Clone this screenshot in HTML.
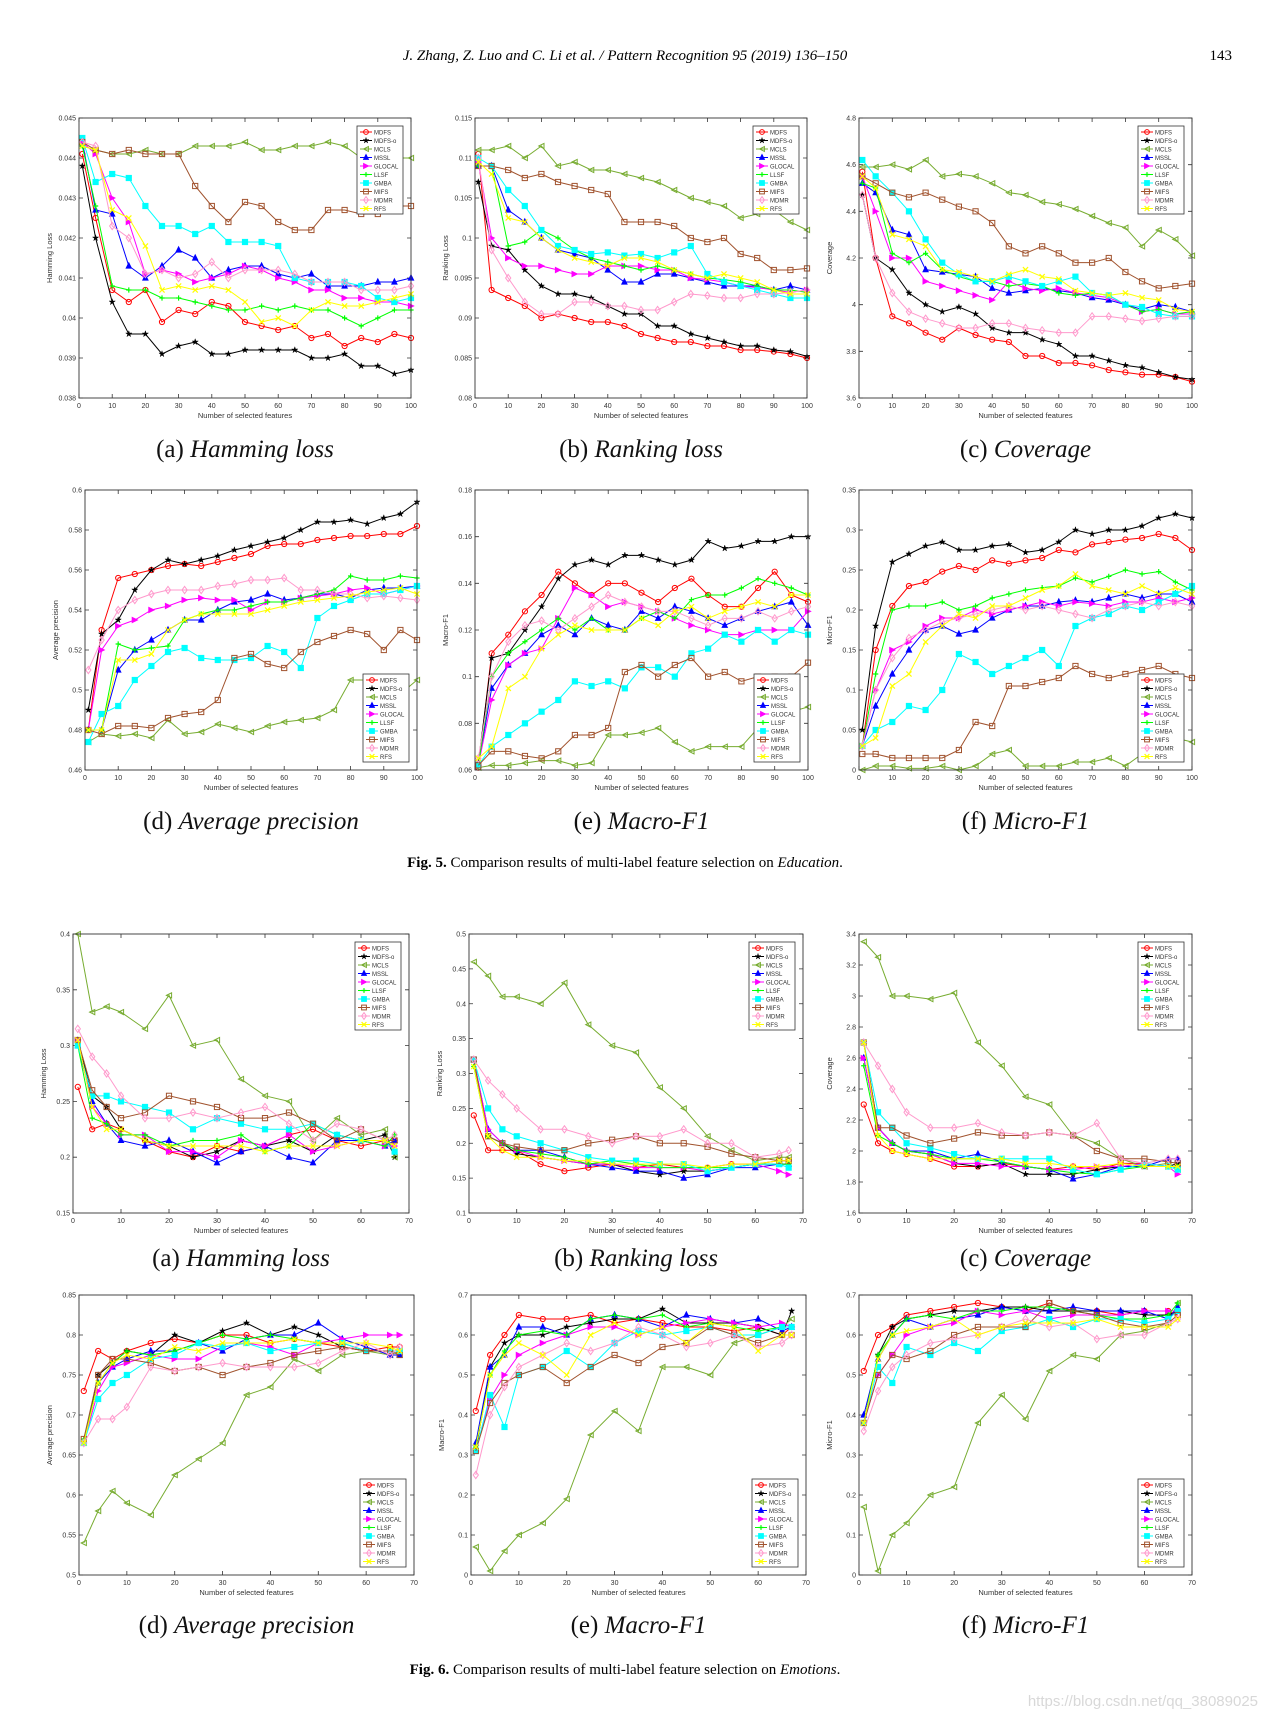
<!DOCTYPE html>
<html><head><meta charset="utf-8"><style>
html,body{margin:0;padding:0;background:#fff;}
svg{display:block;}
</style></head><body>
<svg id="page" width="1268" height="1719" viewBox="0 0 1268 1719" xmlns="http://www.w3.org/2000/svg">
<text x="625" y="60" text-anchor="middle" font-family="Liberation Serif, serif" font-style="italic" font-size="15">J. Zhang, Z. Luo and C. Li et al. / Pattern Recognition 95 (2019) 136–150</text>
<text x="1232" y="60" text-anchor="end" font-family="Liberation Serif, serif" font-size="15">143</text>
<text x="625" y="867" text-anchor="middle" font-family="Liberation Serif, serif" font-size="15"><tspan font-weight="bold">Fig. 5.</tspan> Comparison results of multi-label feature selection on <tspan font-style="italic">Education</tspan>.</text>
<text x="625" y="1674" text-anchor="middle" font-family="Liberation Serif, serif" font-size="15"><tspan font-weight="bold">Fig. 6.</tspan> Comparison results of multi-label feature selection on <tspan font-style="italic">Emotions</tspan>.</text>
<text x="1258" y="1706" text-anchor="end" font-family="Liberation Sans, sans-serif" font-size="15" fill="#d8d8d8">https://blog.csdn.net/qq_38089025</text>
</svg>
<script>
const methods = ["MDFS","MDFS-o","MCLS","MSSL","GLOCAL","LLSF","GMBA","MIFS","MDMR","RFS"];
const colors = ["#ff0000","#000000","#77ac30","#0000ff","#ff00ff","#00ff00","#00ffff","#a0522d","#ff99cc","#ffff00"];
const markers = ["circle","star","ltri","utri","rtri","plus","square","square","diamond","x"];
const xEdu = [1,5,10,15,20,25,30,35,40,45,50,55,60,65,70,75,80,85,90,95,100];
const xEmo = [1,4,7,10,15,20,25,30,35,40,45,50,55,60,65,67];
const xTicksEdu = [0,10,20,30,40,50,60,70,80,90,100];
const xTicksEmo = [0,10,20,30,40,50,60,70];

const eduHamming = [
[0.0441,0.0425,0.0407,0.0404,0.0407,0.0399,0.0402,0.0401,0.0404,0.0403,0.0399,0.0398,0.0397,0.0398,0.0395,0.0396,0.0393,0.0395,0.0394,0.0396,0.0395],
[0.0438,0.0420,0.0404,0.0396,0.0396,0.0391,0.0393,0.0394,0.0391,0.0391,0.0392,0.0392,0.0392,0.0392,0.0390,0.0390,0.0391,0.0388,0.0388,0.0386,0.0387],
[0.0443,0.0442,0.0441,0.0441,0.0442,0.0441,0.0441,0.0443,0.0443,0.0443,0.0444,0.0442,0.0442,0.0443,0.0443,0.0444,0.0443,0.0440,0.0440,0.0440,0.0440],
[0.0444,0.0427,0.0426,0.0413,0.0410,0.0413,0.0417,0.0415,0.0410,0.0412,0.0413,0.0413,0.0411,0.0410,0.0411,0.0408,0.0408,0.0408,0.0409,0.0409,0.0410],
[0.0444,0.0441,0.0430,0.0424,0.0411,0.0412,0.0411,0.0409,0.0410,0.0411,0.0413,0.0412,0.0410,0.0409,0.0407,0.0407,0.0405,0.0405,0.0404,0.0404,0.0403],
[0.0443,0.0428,0.0408,0.0407,0.0407,0.0405,0.0405,0.0404,0.0403,0.0402,0.0402,0.0403,0.0402,0.0403,0.0402,0.0402,0.0400,0.0398,0.0400,0.0402,0.0402],
[0.0445,0.0434,0.0436,0.0435,0.0428,0.0423,0.0423,0.0421,0.0423,0.0419,0.0419,0.0419,0.0418,0.0410,0.0409,0.0409,0.0409,0.0408,0.0405,0.0404,0.0405],
[0.0444,0.0442,0.0441,0.0442,0.0441,0.0441,0.0441,0.0433,0.0428,0.0424,0.0429,0.0428,0.0424,0.0422,0.0422,0.0427,0.0427,0.0426,0.0426,0.0428,0.0428],
[0.0444,0.0443,0.0423,0.0420,0.0411,0.0412,0.0410,0.0411,0.0414,0.0410,0.0412,0.0412,0.0412,0.0411,0.0409,0.0409,0.0409,0.0407,0.0407,0.0407,0.0408],
[0.0443,0.0442,0.0427,0.0425,0.0418,0.0407,0.0408,0.0407,0.0408,0.0407,0.0404,0.0399,0.0400,0.0398,0.0402,0.0404,0.0403,0.0403,0.0404,0.0405,0.0406]];
const eduRanking = [
[0.1105,0.0935,0.0925,0.0915,0.0900,0.0905,0.0900,0.0895,0.0895,0.0890,0.0880,0.0875,0.0870,0.0870,0.0865,0.0865,0.0860,0.0860,0.0858,0.0855,0.0850],
[0.1070,0.0990,0.0985,0.0960,0.0940,0.0930,0.0930,0.0925,0.0915,0.0905,0.0905,0.0890,0.0890,0.0880,0.0875,0.0870,0.0865,0.0865,0.0860,0.0858,0.0852],
[0.1110,0.1110,0.1115,0.1100,0.1115,0.1090,0.1095,0.1085,0.1085,0.1080,0.1075,0.1070,0.1060,0.1050,0.1045,0.1040,0.1025,0.1030,0.1035,0.1020,0.1010],
[0.1090,0.1090,0.1035,0.1020,0.1000,0.0985,0.0980,0.0975,0.0960,0.0945,0.0945,0.0955,0.0955,0.0950,0.0945,0.0940,0.0940,0.0940,0.0935,0.0940,0.0935],
[0.1095,0.1000,0.0975,0.0965,0.0965,0.0960,0.0955,0.0955,0.0965,0.0965,0.0965,0.0960,0.0960,0.0950,0.0948,0.0945,0.0940,0.0938,0.0935,0.0932,0.0935],
[0.1090,0.1090,0.0990,0.0995,0.1010,0.1000,0.0985,0.0975,0.0970,0.0965,0.0960,0.0965,0.0960,0.0955,0.0950,0.0948,0.0945,0.0940,0.0935,0.0935,0.0932],
[0.1100,0.1090,0.1060,0.1040,0.1010,0.0990,0.0985,0.0980,0.0982,0.0978,0.0980,0.0975,0.0982,0.0990,0.0955,0.0945,0.0940,0.0935,0.0930,0.0925,0.0925],
[0.1090,0.1090,0.1085,0.1075,0.1080,0.1070,0.1065,0.1060,0.1055,0.1020,0.1020,0.1020,0.1015,0.1000,0.0995,0.1000,0.0980,0.0975,0.0960,0.0960,0.0962],
[0.1100,0.0985,0.0950,0.0920,0.0905,0.0905,0.0920,0.0920,0.0915,0.0915,0.0910,0.0910,0.0920,0.0930,0.0928,0.0925,0.0925,0.0930,0.0930,0.0932,0.0935],
[0.1095,0.1080,0.1025,0.1020,0.1000,0.0985,0.0975,0.0970,0.0965,0.0975,0.0975,0.0970,0.0960,0.0955,0.0950,0.0955,0.0950,0.0945,0.0935,0.0930,0.0930]];
const eduCoverage = [
[4.57,4.2,3.95,3.92,3.88,3.85,3.9,3.87,3.85,3.84,3.78,3.78,3.75,3.75,3.74,3.72,3.71,3.70,3.70,3.69,3.67],
[4.47,4.2,4.15,4.05,4.0,3.97,3.99,3.96,3.90,3.88,3.88,3.85,3.83,3.78,3.78,3.76,3.74,3.73,3.71,3.69,3.68],
[4.59,4.59,4.60,4.58,4.62,4.55,4.56,4.55,4.52,4.48,4.47,4.44,4.43,4.41,4.38,4.35,4.33,4.25,4.32,4.28,4.21],
[4.52,4.48,4.32,4.30,4.15,4.14,4.13,4.12,4.07,4.05,4.06,4.07,4.06,4.05,4.03,4.02,4.0,3.98,4.00,3.99,3.97],
[4.55,4.40,4.20,4.20,4.10,4.08,4.06,4.04,4.02,4.10,4.07,4.06,4.07,4.05,4.04,4.03,4.00,3.97,3.98,3.96,3.96],
[4.52,4.50,4.22,4.18,4.22,4.15,4.12,4.10,4.10,4.08,4.09,4.08,4.05,4.04,4.05,4.04,4.00,3.97,3.98,3.96,3.97],
[4.62,4.55,4.48,4.40,4.28,4.18,4.13,4.10,4.10,4.12,4.10,4.08,4.10,4.12,4.05,4.04,4.00,3.99,3.96,3.95,3.95],
[4.55,4.52,4.48,4.46,4.48,4.45,4.42,4.40,4.35,4.25,4.22,4.25,4.22,4.18,4.18,4.20,4.14,4.10,4.07,4.08,4.09],
[4.47,4.20,4.05,3.97,3.94,3.92,3.90,3.90,3.92,3.92,3.90,3.89,3.88,3.88,3.95,3.95,3.94,3.93,3.94,3.95,3.95],
[4.55,4.50,4.30,4.28,4.25,4.15,4.14,4.12,4.10,4.13,4.15,4.12,4.11,4.06,4.05,4.04,4.05,4.03,4.02,3.98,3.97]];
const eduAvgPrec = [
[0.480,0.530,0.556,0.558,0.560,0.562,0.563,0.562,0.564,0.566,0.568,0.572,0.573,0.573,0.575,0.576,0.577,0.577,0.578,0.578,0.582],
[0.490,0.528,0.535,0.550,0.560,0.565,0.563,0.565,0.567,0.570,0.572,0.574,0.576,0.580,0.584,0.584,0.585,0.583,0.586,0.588,0.594],
[0.474,0.478,0.477,0.478,0.476,0.485,0.478,0.479,0.483,0.481,0.479,0.482,0.484,0.485,0.486,0.490,0.505,0.505,0.500,0.498,0.505],
[0.480,0.480,0.510,0.520,0.525,0.530,0.535,0.535,0.540,0.544,0.545,0.548,0.545,0.546,0.548,0.548,0.546,0.550,0.551,0.551,0.552],
[0.480,0.520,0.532,0.535,0.540,0.542,0.545,0.546,0.545,0.545,0.540,0.544,0.544,0.546,0.547,0.548,0.550,0.551,0.548,0.550,0.552],
[0.480,0.480,0.523,0.520,0.521,0.522,0.535,0.538,0.540,0.540,0.542,0.544,0.544,0.546,0.548,0.550,0.557,0.555,0.555,0.557,0.556],
[0.474,0.488,0.492,0.505,0.512,0.519,0.521,0.516,0.515,0.515,0.516,0.522,0.519,0.511,0.536,0.542,0.545,0.548,0.548,0.550,0.552],
[0.480,0.478,0.482,0.482,0.481,0.486,0.488,0.489,0.495,0.516,0.518,0.513,0.511,0.519,0.524,0.527,0.530,0.528,0.520,0.530,0.525],
[0.510,0.525,0.540,0.545,0.548,0.550,0.550,0.550,0.552,0.553,0.555,0.555,0.556,0.550,0.550,0.548,0.548,0.546,0.547,0.546,0.545],
[0.480,0.480,0.515,0.515,0.518,0.530,0.535,0.538,0.538,0.538,0.538,0.540,0.542,0.544,0.545,0.546,0.547,0.549,0.550,0.551,0.548]];
const eduMacroF1 = [
[0.061,0.110,0.118,0.128,0.135,0.145,0.140,0.135,0.140,0.140,0.136,0.132,0.138,0.142,0.135,0.130,0.130,0.138,0.145,0.135,0.132],
[0.063,0.108,0.110,0.120,0.130,0.142,0.148,0.150,0.148,0.152,0.152,0.150,0.148,0.150,0.158,0.155,0.156,0.158,0.158,0.160,0.160],
[0.061,0.062,0.062,0.063,0.064,0.064,0.062,0.063,0.075,0.075,0.076,0.078,0.072,0.068,0.070,0.070,0.070,0.078,0.080,0.085,0.087],
[0.062,0.095,0.105,0.110,0.118,0.122,0.118,0.125,0.122,0.120,0.128,0.125,0.130,0.128,0.125,0.122,0.125,0.128,0.130,0.132,0.122],
[0.062,0.090,0.105,0.110,0.112,0.125,0.138,0.135,0.130,0.132,0.130,0.128,0.125,0.122,0.120,0.118,0.118,0.120,0.120,0.120,0.128],
[0.062,0.100,0.110,0.115,0.120,0.125,0.120,0.125,0.120,0.120,0.125,0.128,0.125,0.133,0.135,0.135,0.138,0.142,0.140,0.138,0.135],
[0.062,0.070,0.075,0.080,0.085,0.090,0.098,0.096,0.098,0.095,0.104,0.104,0.100,0.110,0.112,0.118,0.115,0.120,0.115,0.120,0.118],
[0.062,0.068,0.068,0.066,0.065,0.068,0.075,0.075,0.078,0.102,0.105,0.100,0.105,0.108,0.100,0.102,0.098,0.100,0.100,0.100,0.106],
[0.065,0.100,0.115,0.122,0.124,0.120,0.125,0.130,0.135,0.132,0.130,0.128,0.128,0.125,0.122,0.125,0.125,0.128,0.125,0.128,0.130],
[0.065,0.070,0.095,0.100,0.112,0.118,0.122,0.120,0.120,0.120,0.125,0.122,0.128,0.130,0.125,0.128,0.130,0.132,0.130,0.135,0.135]];
const eduMicroF1 = [
[0.03,0.15,0.205,0.230,0.235,0.248,0.255,0.250,0.262,0.258,0.262,0.265,0.275,0.272,0.282,0.285,0.288,0.290,0.295,0.290,0.275],
[0.05,0.18,0.260,0.270,0.280,0.285,0.275,0.275,0.280,0.282,0.272,0.275,0.285,0.300,0.295,0.300,0.300,0.305,0.315,0.320,0.315],
[0.0,0.005,0.005,0.002,0.002,0.005,0.0,0.005,0.02,0.025,0.005,0.005,0.005,0.01,0.01,0.015,0.005,0.02,0.035,0.04,0.035],
[0.03,0.08,0.12,0.15,0.175,0.180,0.170,0.175,0.190,0.200,0.205,0.205,0.210,0.212,0.210,0.215,0.220,0.215,0.220,0.220,0.210],
[0.03,0.10,0.150,0.160,0.180,0.190,0.190,0.200,0.195,0.200,0.205,0.210,0.205,0.210,0.208,0.205,0.210,0.210,0.215,0.210,0.215],
[0.03,0.12,0.200,0.205,0.205,0.210,0.200,0.205,0.215,0.220,0.225,0.228,0.230,0.240,0.235,0.242,0.250,0.245,0.248,0.235,0.225],
[0.03,0.05,0.060,0.080,0.075,0.100,0.145,0.135,0.120,0.130,0.140,0.150,0.130,0.180,0.190,0.195,0.205,0.200,0.210,0.220,0.230],
[0.02,0.02,0.015,0.015,0.015,0.015,0.025,0.060,0.055,0.105,0.105,0.110,0.115,0.130,0.120,0.115,0.120,0.125,0.130,0.120,0.115],
[0.03,0.10,0.140,0.165,0.175,0.185,0.190,0.195,0.200,0.205,0.200,0.205,0.200,0.195,0.190,0.200,0.205,0.210,0.205,0.210,0.205],
[0.03,0.04,0.105,0.120,0.160,0.180,0.195,0.190,0.205,0.205,0.215,0.225,0.230,0.245,0.230,0.225,0.220,0.230,0.220,0.228,0.220]];

const emoHamming = [
[0.263,0.225,0.230,0.225,0.215,0.205,0.200,0.210,0.205,0.210,0.220,0.225,0.215,0.210,0.215,0.215],
[0.305,0.255,0.245,0.225,0.215,0.210,0.200,0.205,0.215,0.210,0.215,0.205,0.220,0.215,0.220,0.200],
[0.400,0.330,0.335,0.330,0.315,0.345,0.300,0.305,0.270,0.255,0.250,0.215,0.235,0.220,0.225,0.200],
[0.300,0.250,0.230,0.215,0.210,0.215,0.205,0.195,0.205,0.210,0.200,0.195,0.215,0.215,0.210,0.215],
[0.305,0.245,0.230,0.220,0.220,0.205,0.205,0.200,0.215,0.210,0.220,0.205,0.210,0.215,0.210,0.210],
[0.300,0.235,0.230,0.220,0.220,0.210,0.215,0.215,0.220,0.205,0.210,0.230,0.220,0.215,0.210,0.220],
[0.300,0.255,0.255,0.250,0.245,0.240,0.225,0.235,0.230,0.225,0.225,0.230,0.220,0.215,0.215,0.205],
[0.305,0.260,0.245,0.235,0.240,0.255,0.250,0.245,0.235,0.235,0.240,0.230,0.215,0.225,0.215,0.215],
[0.315,0.290,0.275,0.255,0.235,0.235,0.240,0.235,0.240,0.245,0.230,0.215,0.230,0.225,0.215,0.220],
[0.305,0.245,0.225,0.225,0.215,0.210,0.210,0.210,0.210,0.205,0.210,0.210,0.210,0.215,0.215,0.210]];
const emoRanking = [
[0.24,0.19,0.19,0.19,0.17,0.16,0.165,0.17,0.165,0.17,0.165,0.165,0.170,0.170,0.175,0.175],
[0.32,0.21,0.20,0.185,0.18,0.175,0.17,0.17,0.16,0.155,0.16,0.160,0.165,0.170,0.170,0.170],
[0.46,0.44,0.41,0.41,0.40,0.43,0.37,0.34,0.33,0.28,0.25,0.21,0.19,0.175,0.18,0.18],
[0.32,0.22,0.20,0.19,0.19,0.18,0.17,0.165,0.16,0.16,0.15,0.155,0.165,0.165,0.170,0.170],
[0.32,0.22,0.20,0.19,0.18,0.175,0.17,0.170,0.165,0.165,0.165,0.160,0.165,0.170,0.160,0.155],
[0.31,0.21,0.20,0.19,0.185,0.18,0.17,0.175,0.17,0.165,0.165,0.165,0.165,0.170,0.170,0.170],
[0.32,0.25,0.22,0.21,0.20,0.19,0.18,0.175,0.175,0.17,0.17,0.16,0.165,0.17,0.17,0.165],
[0.32,0.21,0.20,0.195,0.19,0.19,0.20,0.205,0.21,0.20,0.20,0.195,0.185,0.18,0.175,0.175],
[0.32,0.29,0.27,0.25,0.22,0.22,0.21,0.20,0.21,0.21,0.22,0.20,0.20,0.18,0.185,0.19],
[0.31,0.21,0.19,0.18,0.18,0.175,0.175,0.17,0.17,0.17,0.17,0.165,0.17,0.17,0.175,0.175]];
const emoCoverage = [
[2.30,2.05,2.0,1.98,1.95,1.90,1.90,1.92,1.90,1.88,1.90,1.88,1.92,1.92,1.90,1.90],
[2.70,2.15,2.05,2.00,1.98,1.92,1.90,1.92,1.85,1.85,1.85,1.88,1.90,1.90,1.90,1.92],
[3.35,3.25,3.0,3.0,2.98,3.02,2.70,2.55,2.35,2.30,2.10,2.05,1.95,1.90,1.92,1.88],
[2.60,2.15,2.05,2.00,2.00,1.95,1.98,1.93,1.90,1.88,1.82,1.85,1.90,1.90,1.95,1.95],
[2.60,2.15,2.05,2.00,1.98,1.92,1.92,1.90,1.90,1.88,1.88,1.90,1.90,1.92,1.90,1.85],
[2.55,2.10,2.05,2.00,1.98,1.95,1.95,1.93,1.90,1.88,1.86,1.85,1.88,1.90,1.90,1.90],
[2.70,2.25,2.15,2.05,2.02,1.98,1.95,1.95,1.95,1.95,1.88,1.85,1.88,1.92,1.90,1.88],
[2.70,2.15,2.15,2.10,2.05,2.08,2.12,2.10,2.10,2.12,2.10,2.00,1.95,1.95,1.93,1.92],
[2.70,2.55,2.40,2.25,2.15,2.15,2.18,2.12,2.10,2.12,2.10,2.18,1.95,1.92,1.95,1.95],
[2.70,2.10,2.00,1.98,1.95,1.95,1.95,1.95,1.92,1.92,1.90,1.90,1.92,1.90,1.90,1.90]];
const emoAvgPrec = [
[0.73,0.78,0.77,0.78,0.79,0.795,0.79,0.80,0.80,0.79,0.795,0.79,0.785,0.78,0.785,0.785],
[0.665,0.75,0.765,0.78,0.775,0.80,0.79,0.805,0.815,0.80,0.81,0.80,0.785,0.78,0.78,0.78],
[0.54,0.58,0.605,0.59,0.575,0.625,0.645,0.665,0.725,0.735,0.77,0.755,0.775,0.78,0.775,0.78],
[0.665,0.74,0.76,0.77,0.78,0.78,0.79,0.78,0.795,0.80,0.80,0.815,0.795,0.785,0.775,0.775],
[0.665,0.73,0.76,0.765,0.775,0.77,0.77,0.785,0.79,0.785,0.775,0.79,0.795,0.80,0.80,0.80],
[0.67,0.74,0.765,0.78,0.775,0.78,0.79,0.80,0.795,0.80,0.795,0.79,0.79,0.78,0.78,0.78],
[0.665,0.72,0.74,0.75,0.77,0.775,0.79,0.785,0.79,0.78,0.785,0.79,0.79,0.78,0.78,0.78],
[0.67,0.75,0.77,0.77,0.765,0.755,0.76,0.75,0.76,0.765,0.775,0.78,0.785,0.78,0.78,0.775],
[0.665,0.695,0.695,0.71,0.76,0.755,0.76,0.765,0.76,0.76,0.76,0.765,0.78,0.79,0.775,0.785],
[0.665,0.74,0.765,0.775,0.77,0.785,0.78,0.79,0.79,0.79,0.795,0.79,0.79,0.79,0.785,0.78]];
const emoMacroF1 = [
[0.41,0.55,0.60,0.65,0.64,0.64,0.65,0.63,0.64,0.63,0.62,0.62,0.61,0.62,0.60,0.62],
[0.31,0.52,0.58,0.60,0.60,0.62,0.63,0.64,0.64,0.665,0.63,0.63,0.63,0.62,0.60,0.66],
[0.07,0.01,0.06,0.10,0.13,0.19,0.35,0.41,0.36,0.52,0.52,0.50,0.58,0.60,0.62,0.64],
[0.33,0.52,0.55,0.62,0.62,0.60,0.64,0.65,0.64,0.62,0.65,0.64,0.63,0.64,0.61,0.62],
[0.31,0.44,0.50,0.55,0.58,0.60,0.62,0.62,0.60,0.62,0.63,0.64,0.63,0.62,0.63,0.62],
[0.32,0.50,0.56,0.60,0.61,0.60,0.64,0.65,0.64,0.65,0.62,0.63,0.62,0.61,0.62,0.62],
[0.31,0.45,0.37,0.50,0.52,0.56,0.52,0.58,0.61,0.60,0.61,0.62,0.60,0.60,0.62,0.62],
[0.31,0.43,0.48,0.50,0.52,0.48,0.52,0.55,0.53,0.57,0.58,0.62,0.60,0.58,0.60,0.60],
[0.25,0.40,0.47,0.52,0.55,0.58,0.56,0.58,0.62,0.60,0.57,0.58,0.60,0.57,0.58,0.60],
[0.32,0.50,0.55,0.58,0.55,0.50,0.60,0.63,0.60,0.62,0.58,0.63,0.62,0.56,0.60,0.60]];
const emoMicroF1 = [
[0.51,0.60,0.62,0.65,0.66,0.67,0.68,0.67,0.66,0.68,0.66,0.66,0.65,0.66,0.66,0.65],
[0.38,0.55,0.62,0.64,0.65,0.66,0.66,0.67,0.67,0.66,0.66,0.66,0.66,0.65,0.65,0.66],
[0.17,0.01,0.10,0.13,0.20,0.22,0.38,0.45,0.39,0.51,0.55,0.54,0.60,0.61,0.63,0.68],
[0.40,0.54,0.60,0.64,0.62,0.64,0.65,0.67,0.66,0.66,0.67,0.66,0.66,0.66,0.64,0.67],
[0.38,0.50,0.55,0.60,0.62,0.63,0.66,0.65,0.66,0.64,0.65,0.65,0.65,0.66,0.66,0.66],
[0.38,0.55,0.60,0.64,0.65,0.64,0.66,0.66,0.67,0.67,0.66,0.65,0.64,0.64,0.65,0.68],
[0.38,0.52,0.48,0.57,0.55,0.58,0.56,0.61,0.62,0.64,0.62,0.64,0.64,0.63,0.64,0.66],
[0.38,0.50,0.55,0.54,0.56,0.60,0.62,0.62,0.62,0.68,0.66,0.65,0.63,0.62,0.63,0.65],
[0.36,0.46,0.52,0.55,0.58,0.59,0.60,0.62,0.64,0.62,0.63,0.59,0.60,0.60,0.63,0.64],
[0.38,0.54,0.60,0.61,0.62,0.64,0.60,0.62,0.63,0.63,0.63,0.64,0.62,0.62,0.62,0.64]];

const yTicksEduHam = ["0.038","0.039","0.04","0.041","0.042","0.043","0.044","0.045"];
const yTicksEduRank = ["0.08","0.085","0.09","0.095","0.1","0.105","0.11","0.115"];
const yTicksEduCov = ["3.6","3.8","4","4.2","4.4","4.6","4.8"];
const yTicksEduAP = ["0.46","0.48","0.5","0.52","0.54","0.56","0.58","0.6"];
const yTicksEduMa = ["0.06","0.08","0.1","0.12","0.14","0.16","0.18"];
const yTicksEduMi = ["0","0.05","0.1","0.15","0.2","0.25","0.3","0.35"];
const yTicksEmoHam = ["0.15","0.2","0.25","0.3","0.35","0.4"];
const yTicksEmoRank = ["0.1","0.15","0.2","0.25","0.3","0.35","0.4","0.45","0.5"];
const yTicksEmoCov = ["1.6","1.8","2","2.2","2.4","2.6","2.8","3","3.2","3.4"];
const yTicksEmoAP = ["0.5","0.55","0.6","0.65","0.7","0.75","0.8","0.85"];
const yTicksEmoF1 = ["0","0.1","0.2","0.3","0.4","0.5","0.6","0.7"];

const NS = "http://www.w3.org/2000/svg";
const svg = document.getElementById("page");
function mk(tag, attrs, parent){ const e=document.createElementNS(NS,tag); for(const k in attrs) e.setAttribute(k,attrs[k]); (parent||svg).appendChild(e); return e; }

function marker(g, type, cx, cy, col, r){
  let e;
  if(type==="circle"){ e=mk("circle",{cx:cx,cy:cy,r:r,fill:"none",stroke:col,"stroke-width":1},g); }
  else if(type==="square"){ e=mk("rect",{x:cx-r,y:cy-r,width:2*r,height:2*r,fill:col==="#a0522d"?"none":col,stroke:col,"stroke-width":1},g); }
  else if(type==="diamond"){ e=mk("polygon",{points:`${cx},${cy-r-1} ${cx+r},${cy} ${cx},${cy+r+1} ${cx-r},${cy}`,fill:"none",stroke:col,"stroke-width":1},g); }
  else if(type==="utri"){ e=mk("polygon",{points:`${cx},${cy-r-0.5} ${cx+r},${cy+r-0.5} ${cx-r},${cy+r-0.5}`,fill:col,stroke:col,"stroke-width":1},g); }
  else if(type==="ltri"){ e=mk("polygon",{points:`${cx-r},${cy} ${cx+r},${cy-r} ${cx+r},${cy+r}`,fill:"none",stroke:col,"stroke-width":1},g); }
  else if(type==="rtri"){ e=mk("polygon",{points:`${cx+r},${cy} ${cx-r},${cy-r} ${cx-r},${cy+r}`,fill:col,stroke:col,"stroke-width":1},g); }
  else if(type==="plus"){ e=mk("path",{d:`M${cx-r},${cy}H${cx+r}M${cx},${cy-r}V${cy+r}`,stroke:col,"stroke-width":1.2,fill:"none"},g); }
  else if(type==="x"){ e=mk("path",{d:`M${cx-r},${cy-r}L${cx+r},${cy+r}M${cx-r},${cy+r}L${cx+r},${cy-r}`,stroke:col,"stroke-width":1.2,fill:"none"},g); }
  else if(type==="star"){ let p=""; for(let i=0;i<10;i++){ const a=-Math.PI/2+i*Math.PI/5; const rr=i%2?r*0.45:r+0.6; p+=(cx+rr*Math.cos(a)).toFixed(2)+","+(cy+rr*Math.sin(a)).toFixed(2)+" "; } e=mk("polygon",{points:p,fill:col,stroke:col,"stroke-width":0.5},g); }
  return e;
}

function chart(cfg){
  const {id,L,R,T,B,xs,xMax,xTicks,yTicks,series,ylabel,legendPos,caption,letter} = cfg;
  const yMin=parseFloat(yTicks[0]), yMax=parseFloat(yTicks[yTicks.length-1]);
  const sx = v => L + (v/xMax)*(R-L);
  const sy = v => B - (v-yMin)/(yMax-yMin)*(B-T);
  const g = mk("g",{});
  
  
  mk("rect",{x:L,y:T,width:R-L,height:B-T,fill:"#fff",stroke:"none"},g);
  const font="Liberation Sans, sans-serif";
  xTicks.forEach(t=>{
    const x=sx(t);
    mk("path",{d:`M${x},${B}v-4M${x},${T}v4`,stroke:"#333","stroke-width":0.8},g);
    const tx=mk("text",{x:x,y:B+10,"text-anchor":"middle","font-family":font,"font-size":7,fill:"#333"},g);
    tx.textContent=t;
    
    
  });
  yTicks.forEach(t=>{
    const y=sy(parseFloat(t));
    mk("path",{d:`M${L},${y}h4M${R},${y}h-4`,stroke:"#333","stroke-width":0.8},g);
    const tx=mk("text",{x:L-3,y:y+2.5,"text-anchor":"end","font-family":font,"font-size":7,fill:"#333"},g);
    tx.textContent=t;
    
    
  });
  const xl=mk("text",{x:(L+R)/2,y:B+20,"text-anchor":"middle","font-family":font,"font-size":7.5,fill:"#333"},g);
  xl.textContent="Number of selected features";
  
  
  const yl=mk("text",{x:0,y:0,"text-anchor":"middle","font-family":font,"font-size":7.5,fill:"#333",transform:`translate(${L-27},${(T+B)/2}) rotate(-90)`},g);
  yl.textContent=ylabel;
  
  
  series.forEach((vals,si)=>{
    const sg=mk("g",{},g);
    
    
    const pts=vals.map((v,i)=>sx(xs[i]).toFixed(2)+","+sy(v).toFixed(2)).join(" ");
    mk("polyline",{points:pts,fill:"none",stroke:colors[si],"stroke-width":1},sg);
    vals.forEach((v,i)=>{ const m=marker(sg,markers[si],sx(xs[i]),sy(v),colors[si],2.6);
      
       });
  });
  mk("rect",{x:L,y:T,width:R-L,height:B-T,fill:"none",stroke:"#333","stroke-width":0.9},g);
  const lw=46, lh=88;
  const lx=R-lw-8, ly = legendPos==="top" ? T+8 : B-lh-8;
  const lg=mk("g",{},g);
  
  
  mk("rect",{x:lx,y:ly,width:lw,height:lh,fill:"#fff",stroke:"#333","stroke-width":0.8},lg);
  methods.forEach((m,i)=>{
    const yy=ly+6+i*8.5;
    const eg=mk("g",{},lg);
    
    
    mk("line",{x1:lx+3,y1:yy,x2:lx+15,y2:yy,stroke:colors[i],"stroke-width":1},eg);
    marker(eg,markers[i],lx+9,yy,colors[i],2.4);
    const t=mk("text",{x:lx+17,y:yy+2.3,"font-family":font,"font-size":6,fill:"#333"},eg);
    t.textContent=m;
  });
  const cap=mk("text",{x:(L+R)/2,y:cfg.capY,"text-anchor":"middle","font-family":"Liberation Serif, serif","font-size":25,fill:"#111"},svg);
  
  
  const t1=mk("tspan",{},cap); t1.textContent="("+letter+")  ";
  const t2=mk("tspan",{"font-style":"italic"},cap); t2.textContent=caption;
}

const r1={T:118,B:398,capY:457}, r2={T:490,B:770,capY:829}, r3={T:934,B:1213,capY:1266}, r4={T:1295,B:1575,capY:1633};
chart({id:"edu-hamming-loss-chart",L:79,R:411,...r1,xs:xEdu,xMax:100,xTicks:xTicksEdu,yTicks:yTicksEduHam,series:eduHamming,ylabel:"Hamming Loss",legendPos:"top",caption:"Hamming loss",letter:"a"});
chart({id:"edu-ranking-loss-chart",L:475,R:807,...r1,xs:xEdu,xMax:100,xTicks:xTicksEdu,yTicks:yTicksEduRank,series:eduRanking,ylabel:"Ranking Loss",legendPos:"top",caption:"Ranking loss",letter:"b"});
chart({id:"edu-coverage-chart",L:859,R:1192,...r1,xs:xEdu,xMax:100,xTicks:xTicksEdu,yTicks:yTicksEduCov,series:eduCoverage,ylabel:"Coverage",legendPos:"top",caption:"Coverage",letter:"c"});
chart({id:"edu-average-precision-chart",L:85,R:417,...r2,xs:xEdu,xMax:100,xTicks:xTicksEdu,yTicks:yTicksEduAP,series:eduAvgPrec,ylabel:"Average precision",legendPos:"bottom",caption:"Average precision",letter:"d"});
chart({id:"edu-macro-f1-chart",L:475,R:808,...r2,xs:xEdu,xMax:100,xTicks:xTicksEdu,yTicks:yTicksEduMa,series:eduMacroF1,ylabel:"Macro-F1",legendPos:"bottom",caption:"Macro-F1",letter:"e"});
chart({id:"edu-micro-f1-chart",L:859,R:1192,...r2,xs:xEdu,xMax:100,xTicks:xTicksEdu,yTicks:yTicksEduMi,series:eduMicroF1,ylabel:"Micro-F1",legendPos:"bottom",caption:"Micro-F1",letter:"f"});
chart({id:"emo-hamming-loss-chart",L:73,R:409,...r3,xs:xEmo,xMax:70,xTicks:xTicksEmo,yTicks:yTicksEmoHam,series:emoHamming,ylabel:"Hamming Loss",legendPos:"top",caption:"Hamming loss",letter:"a"});
chart({id:"emo-ranking-loss-chart",L:469,R:803,...r3,xs:xEmo,xMax:70,xTicks:xTicksEmo,yTicks:yTicksEmoRank,series:emoRanking,ylabel:"Ranking Loss",legendPos:"top",caption:"Ranking loss",letter:"b"});
chart({id:"emo-coverage-chart",L:859,R:1192,...r3,xs:xEmo,xMax:70,xTicks:xTicksEmo,yTicks:yTicksEmoCov,series:emoCoverage,ylabel:"Coverage",legendPos:"top",caption:"Coverage",letter:"c"});
chart({id:"emo-average-precision-chart",L:79,R:414,...r4,xs:xEmo,xMax:70,xTicks:xTicksEmo,yTicks:yTicksEmoAP,series:emoAvgPrec,ylabel:"Average precision",legendPos:"bottom",caption:"Average precision",letter:"d"});
chart({id:"emo-macro-f1-chart",L:471,R:806,...r4,xs:xEmo,xMax:70,xTicks:xTicksEmo,yTicks:yTicksEmoF1,series:emoMacroF1,ylabel:"Macro-F1",legendPos:"bottom",caption:"Macro-F1",letter:"e"});
chart({id:"emo-micro-f1-chart",L:859,R:1192,...r4,xs:xEmo,xMax:70,xTicks:xTicksEmo,yTicks:yTicksEmoF1,series:emoMicroF1,ylabel:"Micro-F1",legendPos:"bottom",caption:"Micro-F1",letter:"f"});
</script>
</body></html>
